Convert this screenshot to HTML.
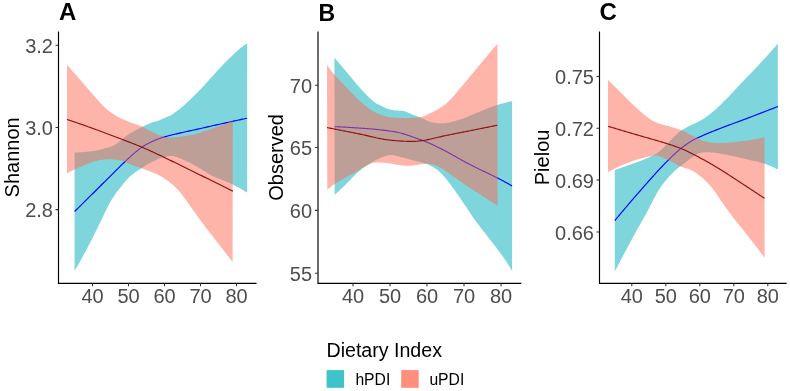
<!DOCTYPE html>
<html><head><meta charset="utf-8"><style>
html,body{margin:0;padding:0;background:#fff;width:790px;height:391px;overflow:hidden}
svg{display:block;will-change:transform}
</style></head><body>
<svg width="790" height="391" viewBox="0 0 790 391">
<path d="M74.60,152.50L75.60,152.49L76.60,152.46L77.60,152.43L78.60,152.39L79.60,152.33L80.60,152.27L81.60,152.20L82.60,152.13L83.60,152.05L84.60,151.96L85.60,151.86L86.60,151.76L87.60,151.66L88.60,151.55L89.60,151.44L90.60,151.33L91.60,151.21L92.60,151.09L93.60,150.98L94.60,150.84L95.60,150.67L96.60,150.48L97.60,150.27L98.60,150.05L99.60,149.81L100.60,149.56L101.60,149.31L102.60,149.05L103.60,148.80L104.60,148.55L105.60,148.30L106.60,148.04L107.60,147.76L108.60,147.47L109.60,147.15L110.60,146.81L111.60,146.44L112.60,146.03L113.60,145.59L114.60,145.10L115.60,144.51L116.60,143.84L117.60,143.11L118.60,142.32L119.60,141.49L120.60,140.64L121.60,139.76L122.60,138.89L123.60,138.03L124.60,137.18L125.60,136.38L126.60,135.62L127.60,134.92L128.60,134.29L129.60,133.68L130.60,133.09L131.60,132.51L132.60,131.94L133.60,131.39L134.60,130.84L135.60,130.31L136.60,129.78L137.60,129.26L138.60,128.75L139.60,128.24L140.60,127.74L141.60,127.25L142.60,126.75L143.60,126.25L144.60,125.75L145.60,125.26L146.60,124.77L147.60,124.30L148.60,123.85L149.60,123.42L150.60,123.01L151.60,122.65L152.60,122.34L153.60,122.06L154.60,121.79L155.60,121.52L156.60,121.23L157.60,120.91L158.60,120.54L159.60,120.14L160.60,119.73L161.60,119.30L162.60,118.86L163.60,118.43L164.60,117.99L165.60,117.56L166.60,117.13L167.60,116.74L168.60,116.34L169.60,115.90L170.60,115.39L171.60,114.82L172.60,114.19L173.60,113.53L174.60,112.82L175.60,112.09L176.60,111.33L177.60,110.55L178.60,109.77L179.60,108.97L180.60,108.18L181.60,107.37L182.60,106.52L183.60,105.66L184.60,104.77L185.60,103.87L186.60,102.95L187.60,102.03L188.60,101.09L189.60,100.15L190.60,99.21L191.60,98.26L192.60,97.29L193.60,96.32L194.60,95.33L195.60,94.33L196.60,93.33L197.60,92.31L198.60,91.28L199.60,90.25L200.60,89.20L201.60,88.15L202.60,87.08L203.60,85.99L204.60,84.89L205.60,83.79L206.60,82.67L207.60,81.56L208.60,80.44L209.60,79.33L210.60,78.23L211.60,77.13L212.60,76.02L213.60,74.91L214.60,73.80L215.60,72.69L216.60,71.58L217.60,70.47L218.60,69.38L219.60,68.30L220.60,67.23L221.60,66.18L222.60,65.14L223.60,64.11L224.60,63.09L225.60,62.08L226.60,61.07L227.60,60.08L228.60,59.10L229.60,58.12L230.60,57.16L231.60,56.21L232.60,55.26L233.60,54.31L234.60,53.36L235.60,52.43L236.60,51.50L237.60,50.59L238.60,49.70L239.60,48.84L240.60,48.00L241.60,47.20L242.60,46.42L243.60,45.67L244.60,44.96L245.60,44.28L246.60,43.65L247.20,43.30L247.10,192.60L246.60,192.29L245.60,191.67L244.60,191.06L243.60,190.46L242.60,189.86L241.60,189.27L240.60,188.69L239.60,188.12L238.60,187.56L237.60,187.00L236.60,186.46L235.60,185.93L234.60,185.41L233.60,184.90L232.60,184.40L231.60,183.92L230.60,183.46L229.60,183.01L228.60,182.58L227.60,182.16L226.60,181.75L225.60,181.35L224.60,180.95L223.60,180.56L222.60,180.17L221.60,179.78L220.60,179.39L219.60,178.99L218.60,178.59L217.60,178.18L216.60,177.76L215.60,177.33L214.60,176.89L213.60,176.43L212.60,175.95L211.60,175.45L210.60,174.93L209.60,174.39L208.60,173.81L207.60,173.22L206.60,172.61L205.60,171.99L204.60,171.36L203.60,170.73L202.60,170.09L201.60,169.45L200.60,168.82L199.60,168.20L198.60,167.59L197.60,167.00L196.60,166.43L195.60,165.88L194.60,165.34L193.60,164.81L192.60,164.28L191.60,163.76L190.60,163.25L189.60,162.75L188.60,162.25L187.60,161.77L186.60,161.30L185.60,160.84L184.60,160.39L183.60,159.96L182.60,159.52L181.60,159.07L180.60,158.61L179.60,158.17L178.60,157.74L177.60,157.34L176.60,156.97L175.60,156.65L174.60,156.38L173.60,156.18L172.60,156.06L171.60,156.00L170.60,156.01L169.60,156.07L168.60,156.17L167.60,156.33L166.60,156.52L165.60,156.74L164.60,156.98L163.60,157.24L162.60,157.52L161.60,157.80L160.60,158.13L159.60,158.49L158.60,158.87L157.60,159.29L156.60,159.73L155.60,160.19L154.60,160.66L153.60,161.16L152.60,161.66L151.60,162.17L150.60,162.69L149.60,163.21L148.60,163.77L147.60,164.35L146.60,164.96L145.60,165.60L144.60,166.24L143.60,166.90L142.60,167.55L141.60,168.20L140.60,168.84L139.60,169.48L138.60,170.12L137.60,170.76L136.60,171.42L135.60,172.09L134.60,172.79L133.60,173.51L132.60,174.26L131.60,175.06L130.60,175.90L129.60,176.82L128.60,177.82L127.60,178.88L126.60,179.99L125.60,181.15L124.60,182.34L123.60,183.55L122.60,184.77L121.60,185.99L120.60,187.21L119.60,188.45L118.60,189.72L117.60,191.02L116.60,192.36L115.60,193.74L114.60,195.17L113.60,196.64L112.60,198.17L111.60,199.75L110.60,201.40L109.60,203.16L108.60,205.02L107.60,206.97L106.60,208.99L105.60,211.06L104.60,213.16L103.60,215.27L102.60,217.38L101.60,219.46L100.60,221.50L99.60,223.53L98.60,225.59L97.60,227.65L96.60,229.71L95.60,231.78L94.60,233.82L93.60,235.85L92.60,237.85L91.60,239.81L90.60,241.74L89.60,243.66L88.60,245.57L87.60,247.47L86.60,249.35L85.60,251.23L84.60,253.10L83.60,254.96L82.60,256.80L81.60,258.63L80.60,260.45L79.60,262.26L78.60,264.05L77.60,265.83L76.60,267.60L75.60,269.36L74.60,271.10Z" fill="#00ABB9" fill-opacity="0.5"/>
<path d="M74.60,211.50L75.60,210.52L76.60,209.53L77.60,208.55L78.60,207.56L79.60,206.58L80.60,205.59L81.60,204.60L82.60,203.62L83.60,202.63L84.60,201.64L85.60,200.65L86.60,199.66L87.60,198.68L88.60,197.69L89.60,196.70L90.60,195.71L91.60,194.71L92.60,193.72L93.60,192.73L94.60,191.74L95.60,190.74L96.60,189.75L97.60,188.75L98.60,187.76L99.60,186.76L100.60,185.77L101.60,184.77L102.60,183.78L103.60,182.78L104.60,181.79L105.60,180.80L106.60,179.80L107.60,178.81L108.60,177.82L109.60,176.82L110.60,175.83L111.60,174.83L112.60,173.84L113.60,172.85L114.60,171.86L115.60,170.87L116.60,169.88L117.60,168.89L118.60,167.91L119.60,166.92L120.60,165.93L121.60,164.94L122.60,163.96L123.60,162.98L124.60,162.01L125.60,161.06L126.60,160.12L127.60,159.18L128.60,158.25L129.60,157.33L130.60,156.41L131.60,155.51L132.60,154.63L133.60,153.76L134.60,152.93L135.60,152.11L136.60,151.29L137.60,150.47L138.60,149.66L139.60,148.86L140.60,148.09L141.60,147.35L142.60,146.65L143.60,145.99L144.60,145.39L145.60,144.84L146.60,144.32L147.60,143.80L148.60,143.29L149.60,142.80L150.60,142.31L151.60,141.83L152.60,141.36L153.60,140.91L154.60,140.47L155.60,140.04L156.60,139.62L157.60,139.22L158.60,138.83L159.60,138.46L160.60,138.11L161.60,137.77L162.60,137.44L163.60,137.14L164.60,136.85L165.60,136.58L166.60,136.32L167.60,136.05L168.60,135.79L169.60,135.54L170.60,135.28L171.60,135.03L172.60,134.79L173.60,134.54L174.60,134.30L175.60,134.06L176.60,133.82L177.60,133.59L178.60,133.36L179.60,133.13L180.60,132.90L181.60,132.67L182.60,132.44L183.60,132.22L184.60,132.00L185.60,131.77L186.60,131.55L187.60,131.33L188.60,131.11L189.60,130.89L190.60,130.67L191.60,130.46L192.60,130.24L193.60,130.02L194.60,129.80L195.60,129.58L196.60,129.36L197.60,129.14L198.60,128.91L199.60,128.69L200.60,128.47L201.60,128.24L202.60,128.02L203.60,127.79L204.60,127.57L205.60,127.34L206.60,127.12L207.60,126.90L208.60,126.67L209.60,126.45L210.60,126.22L211.60,126.00L212.60,125.78L213.60,125.55L214.60,125.33L215.60,125.11L216.60,124.88L217.60,124.66L218.60,124.44L219.60,124.22L220.60,123.99L221.60,123.77L222.60,123.55L223.60,123.33L224.60,123.11L225.60,122.89L226.60,122.67L227.60,122.45L228.60,122.22L229.60,122.00L230.60,121.78L231.60,121.57L232.60,121.35L233.60,121.13L234.60,120.91L235.60,120.69L236.60,120.47L237.60,120.25L238.60,120.04L239.60,119.82L240.60,119.60L241.60,119.38L242.60,119.17L243.60,118.95L244.60,118.74L245.60,118.52L246.60,118.31L247.10,118.20" fill="none" stroke="#0000FF" stroke-width="1.15"/>
<path d="M67.00,64.80L68.00,65.95L69.00,67.09L70.00,68.24L71.00,69.39L72.00,70.53L73.00,71.68L74.00,72.83L75.00,73.97L76.00,75.12L77.00,76.27L78.00,77.42L79.00,78.56L80.00,79.71L81.00,80.86L82.00,82.01L83.00,83.17L84.00,84.33L85.00,85.49L86.00,86.65L87.00,87.81L88.00,88.96L89.00,90.12L90.00,91.26L91.00,92.40L92.00,93.53L93.00,94.65L94.00,95.77L95.00,96.90L96.00,98.05L97.00,99.20L98.00,100.35L99.00,101.49L100.00,102.61L101.00,103.71L102.00,104.78L103.00,105.81L104.00,106.79L105.00,107.73L106.00,108.60L107.00,109.43L108.00,110.24L109.00,111.03L110.00,111.80L111.00,112.54L112.00,113.26L113.00,113.96L114.00,114.62L115.00,115.26L116.00,115.87L117.00,116.44L118.00,116.99L119.00,117.50L120.00,117.99L121.00,118.46L122.00,118.91L123.00,119.35L124.00,119.78L125.00,120.20L126.00,120.61L127.00,121.01L128.00,121.41L129.00,121.81L130.00,122.20L131.00,122.58L132.00,122.95L133.00,123.31L134.00,123.66L135.00,124.00L136.00,124.34L137.00,124.69L138.00,125.04L139.00,125.40L140.00,125.78L141.00,126.17L142.00,126.58L143.00,127.03L144.00,127.50L145.00,128.01L146.00,128.54L147.00,129.09L148.00,129.64L149.00,130.19L150.00,130.73L151.00,131.25L152.00,131.78L153.00,132.31L154.00,132.85L155.00,133.37L156.00,133.87L157.00,134.33L158.00,134.74L159.00,135.12L160.00,135.49L161.00,135.84L162.00,136.16L163.00,136.43L164.00,136.66L165.00,136.83L166.00,136.99L167.00,137.14L168.00,137.28L169.00,137.40L170.00,137.48L171.00,137.51L172.00,137.49L173.00,137.43L174.00,137.35L175.00,137.24L176.00,137.13L177.00,137.01L178.00,136.88L179.00,136.76L180.00,136.64L181.00,136.52L182.00,136.39L183.00,136.26L184.00,136.13L185.00,135.99L186.00,135.85L187.00,135.69L188.00,135.54L189.00,135.37L190.00,135.20L191.00,135.02L192.00,134.84L193.00,134.64L194.00,134.42L195.00,134.18L196.00,133.92L197.00,133.64L198.00,133.34L199.00,133.03L200.00,132.71L201.00,132.38L202.00,132.05L203.00,131.71L204.00,131.37L205.00,131.03L206.00,130.70L207.00,130.37L208.00,130.04L209.00,129.70L210.00,129.36L211.00,129.02L212.00,128.67L213.00,128.32L214.00,127.97L215.00,127.61L216.00,127.25L217.00,126.88L218.00,126.52L219.00,126.15L220.00,125.78L221.00,125.41L222.00,125.04L223.00,124.66L224.00,124.28L225.00,123.90L226.00,123.51L227.00,123.12L228.00,122.73L229.00,122.33L230.00,121.93L231.00,121.53L232.00,121.13L232.80,120.80L232.60,261.80L232.00,261.04L231.00,259.78L230.00,258.51L229.00,257.25L228.00,255.98L227.00,254.70L226.00,253.43L225.00,252.16L224.00,250.88L223.00,249.60L222.00,248.32L221.00,247.04L220.00,245.76L219.00,244.47L218.00,243.19L217.00,241.90L216.00,240.61L215.00,239.31L214.00,238.02L213.00,236.72L212.00,235.43L211.00,234.13L210.00,232.83L209.00,231.54L208.00,230.26L207.00,228.97L206.00,227.68L205.00,226.38L204.00,225.08L203.00,223.77L202.00,222.44L201.00,221.10L200.00,219.75L199.00,218.37L198.00,216.97L197.00,215.56L196.00,214.14L195.00,212.72L194.00,211.30L193.00,209.88L192.00,208.48L191.00,207.09L190.00,205.71L189.00,204.32L188.00,202.90L187.00,201.48L186.00,200.05L185.00,198.64L184.00,197.24L183.00,195.88L182.00,194.55L181.00,193.26L180.00,192.04L179.00,190.88L178.00,189.79L177.00,188.76L176.00,187.77L175.00,186.82L174.00,185.91L173.00,185.04L172.00,184.20L171.00,183.39L170.00,182.60L169.00,181.84L168.00,181.11L167.00,180.37L166.00,179.64L165.00,178.92L164.00,178.22L163.00,177.54L162.00,176.89L161.00,176.28L160.00,175.72L159.00,175.20L158.00,174.72L157.00,174.26L156.00,173.81L155.00,173.39L154.00,172.97L153.00,172.57L152.00,172.17L151.00,171.79L150.00,171.40L149.00,171.02L148.00,170.64L147.00,170.27L146.00,169.90L145.00,169.54L144.00,169.18L143.00,168.82L142.00,168.46L141.00,168.10L140.00,167.74L139.00,167.39L138.00,167.04L137.00,166.70L136.00,166.35L135.00,166.01L134.00,165.66L133.00,165.30L132.00,164.95L131.00,164.58L130.00,164.21L129.00,163.79L128.00,163.35L127.00,162.88L126.00,162.42L125.00,161.96L124.00,161.52L123.00,161.12L122.00,160.77L121.00,160.48L120.00,160.26L119.00,160.09L118.00,159.93L117.00,159.79L116.00,159.66L115.00,159.56L114.00,159.47L113.00,159.40L112.00,159.35L111.00,159.32L110.00,159.30L109.00,159.30L108.00,159.33L107.00,159.37L106.00,159.43L105.00,159.50L104.00,159.60L103.00,159.70L102.00,159.82L101.00,159.96L100.00,160.11L99.00,160.28L98.00,160.49L97.00,160.71L96.00,160.97L95.00,161.24L94.00,161.53L93.00,161.85L92.00,162.18L91.00,162.53L90.00,162.89L89.00,163.27L88.00,163.66L87.00,164.07L86.00,164.48L85.00,164.90L84.00,165.33L83.00,165.76L82.00,166.20L81.00,166.64L80.00,167.09L79.00,167.53L78.00,167.98L77.00,168.42L76.00,168.85L75.00,169.29L74.00,169.72L73.00,170.17L72.00,170.66L71.00,171.17L70.00,171.70L69.00,172.26L68.00,172.82L67.00,173.40Z" fill="#FD6953" fill-opacity="0.5"/>
<path d="M67.00,119.50L68.00,119.82L69.00,120.15L70.00,120.48L71.00,120.81L72.00,121.14L73.00,121.47L74.00,121.81L75.00,122.15L76.00,122.48L77.00,122.82L78.00,123.17L79.00,123.51L80.00,123.85L81.00,124.20L82.00,124.55L83.00,124.90L84.00,125.25L85.00,125.60L86.00,125.95L87.00,126.31L88.00,126.67L89.00,127.02L90.00,127.38L91.00,127.74L92.00,128.11L93.00,128.47L94.00,128.84L95.00,129.20L96.00,129.57L97.00,129.94L98.00,130.31L99.00,130.68L100.00,131.05L101.00,131.42L102.00,131.80L103.00,132.17L104.00,132.54L105.00,132.92L106.00,133.29L107.00,133.67L108.00,134.05L109.00,134.42L110.00,134.80L111.00,135.18L112.00,135.55L113.00,135.93L114.00,136.31L115.00,136.68L116.00,137.06L117.00,137.44L118.00,137.82L119.00,138.20L120.00,138.57L121.00,138.95L122.00,139.33L123.00,139.71L124.00,140.10L125.00,140.48L126.00,140.86L127.00,141.25L128.00,141.63L129.00,142.02L130.00,142.41L131.00,142.80L132.00,143.19L133.00,143.59L134.00,143.98L135.00,144.38L136.00,144.78L137.00,145.18L138.00,145.58L139.00,145.98L140.00,146.39L141.00,146.80L142.00,147.21L143.00,147.62L144.00,148.04L145.00,148.47L146.00,148.91L147.00,149.34L148.00,149.79L149.00,150.24L150.00,150.69L151.00,151.15L152.00,151.61L153.00,152.07L154.00,152.53L155.00,153.00L156.00,153.47L157.00,153.94L158.00,154.41L159.00,154.88L160.00,155.35L161.00,155.83L162.00,156.30L163.00,156.78L164.00,157.26L165.00,157.74L166.00,158.22L167.00,158.70L168.00,159.18L169.00,159.66L170.00,160.15L171.00,160.63L172.00,161.12L173.00,161.61L174.00,162.09L175.00,162.58L176.00,163.07L177.00,163.56L178.00,164.05L179.00,164.54L180.00,165.03L181.00,165.53L182.00,166.02L183.00,166.51L184.00,167.00L185.00,167.50L186.00,167.99L187.00,168.49L188.00,168.98L189.00,169.47L190.00,169.97L191.00,170.46L192.00,170.96L193.00,171.45L194.00,171.94L195.00,172.44L196.00,172.93L197.00,173.42L198.00,173.92L199.00,174.41L200.00,174.90L201.00,175.39L202.00,175.88L203.00,176.38L204.00,176.87L205.00,177.36L206.00,177.86L207.00,178.35L208.00,178.84L209.00,179.34L210.00,179.83L211.00,180.33L212.00,180.82L213.00,181.32L214.00,181.82L215.00,182.31L216.00,182.81L217.00,183.31L218.00,183.80L219.00,184.30L220.00,184.80L221.00,185.30L222.00,185.80L223.00,186.29L224.00,186.79L225.00,187.29L226.00,187.79L227.00,188.29L228.00,188.79L229.00,189.29L230.00,189.80L231.00,190.30L232.00,190.80L233.00,191.30" fill="none" stroke="#901010" stroke-width="1.15"/>
<path d="M58.5,31.5V283.35H256.5" fill="none" stroke="#000" stroke-width="1.15"/>
<path d="M92.5,283.35v3M128.5,283.35v3M164.5,283.35v3M200.5,283.35v3M236.5,283.35v3M58.5,45.3h-3M58.5,127.5h-3M58.5,209.6h-3" fill="none" stroke="#333" stroke-width="1.1"/>
<text x="92.5" y="302.7" font-family="&apos;Liberation Sans&apos;, sans-serif" font-size="20" fill="#4D4D4D" text-anchor="middle">40</text>
<text x="128.5" y="302.7" font-family="&apos;Liberation Sans&apos;, sans-serif" font-size="20" fill="#4D4D4D" text-anchor="middle">50</text>
<text x="164.5" y="302.7" font-family="&apos;Liberation Sans&apos;, sans-serif" font-size="20" fill="#4D4D4D" text-anchor="middle">60</text>
<text x="200.5" y="302.7" font-family="&apos;Liberation Sans&apos;, sans-serif" font-size="20" fill="#4D4D4D" text-anchor="middle">70</text>
<text x="236.5" y="302.7" font-family="&apos;Liberation Sans&apos;, sans-serif" font-size="20" fill="#4D4D4D" text-anchor="middle">80</text>
<text x="53.0" y="52.8" font-family="&apos;Liberation Sans&apos;, sans-serif" font-size="20" fill="#4D4D4D" text-anchor="end">3.2</text>
<text x="53.0" y="135.0" font-family="&apos;Liberation Sans&apos;, sans-serif" font-size="20" fill="#4D4D4D" text-anchor="end">3.0</text>
<text x="53.0" y="217.1" font-family="&apos;Liberation Sans&apos;, sans-serif" font-size="20" fill="#4D4D4D" text-anchor="end">2.8</text>
<text transform="translate(18.9,157.425) rotate(-90)" font-family="&apos;Liberation Sans&apos;, sans-serif" font-size="20" fill="#000" text-anchor="middle">Shannon</text>
<text x="59" y="20.4" font-family="&apos;Liberation Sans&apos;, sans-serif" font-size="24" font-weight="bold" fill="#000">A</text>
<path d="M334.40,57.60L335.40,58.78L336.40,59.96L337.40,61.14L338.40,62.32L339.40,63.50L340.40,64.69L341.40,65.87L342.40,67.05L343.40,68.23L344.40,69.41L345.40,70.59L346.40,71.77L347.40,72.97L348.40,74.18L349.40,75.39L350.40,76.62L351.40,77.84L352.40,79.07L353.40,80.29L354.40,81.50L355.40,82.70L356.40,83.89L357.40,85.06L358.40,86.21L359.40,87.33L360.40,88.43L361.40,89.50L362.40,90.56L363.40,91.62L364.40,92.68L365.40,93.74L366.40,94.79L367.40,95.82L368.40,96.83L369.40,97.81L370.40,98.76L371.40,99.66L372.40,100.53L373.40,101.34L374.40,102.10L375.40,102.80L376.40,103.43L377.40,104.00L378.40,104.55L379.40,105.09L380.40,105.61L381.40,106.11L382.40,106.60L383.40,107.06L384.40,107.50L385.40,107.92L386.40,108.31L387.40,108.68L388.40,109.02L389.40,109.33L390.40,109.61L391.40,109.86L392.40,110.08L393.40,110.25L394.40,110.37L395.40,110.46L396.40,110.52L397.40,110.57L398.40,110.61L399.40,110.65L400.40,110.71L401.40,110.79L402.40,110.89L403.40,111.04L404.40,111.24L405.40,111.50L406.40,111.83L407.40,112.24L408.40,112.69L409.40,113.17L410.40,113.65L411.40,114.12L412.40,114.56L413.40,114.96L414.40,115.34L415.40,115.71L416.40,116.08L417.40,116.45L418.40,116.81L419.40,117.19L420.40,117.57L421.40,117.96L422.40,118.38L423.40,118.85L424.40,119.34L425.40,119.84L426.40,120.33L427.40,120.80L428.40,121.24L429.40,121.61L430.40,121.92L431.40,122.16L432.40,122.38L433.40,122.57L434.40,122.74L435.40,122.89L436.40,123.01L437.40,123.12L438.40,123.19L439.40,123.25L440.40,123.28L441.40,123.29L442.40,123.27L443.40,123.23L444.40,123.16L445.40,123.07L446.40,122.95L447.40,122.81L448.40,122.64L449.40,122.45L450.40,122.23L451.40,122.00L452.40,121.75L453.40,121.49L454.40,121.21L455.40,120.92L456.40,120.61L457.40,120.30L458.40,119.98L459.40,119.66L460.40,119.33L461.40,119.00L462.40,118.66L463.40,118.31L464.40,117.94L465.40,117.56L466.40,117.16L467.40,116.76L468.40,116.36L469.40,115.94L470.40,115.52L471.40,115.10L472.40,114.68L473.40,114.26L474.40,113.84L475.40,113.43L476.40,113.02L477.40,112.62L478.40,112.20L479.40,111.78L480.40,111.36L481.40,110.93L482.40,110.50L483.40,110.07L484.40,109.65L485.40,109.23L486.40,108.81L487.40,108.41L488.40,108.01L489.40,107.63L490.40,107.26L491.40,106.90L492.40,106.57L493.40,106.24L494.40,105.91L495.40,105.59L496.40,105.27L497.40,104.95L498.40,104.64L499.40,104.34L500.40,104.04L501.40,103.76L502.40,103.47L503.40,103.20L504.40,102.93L505.40,102.67L506.40,102.42L507.40,102.18L508.40,101.95L509.40,101.74L510.40,101.53L511.40,101.33L512.10,101.20L512.10,270.80L511.70,270.15L510.70,268.55L509.70,266.95L508.70,265.37L507.70,263.81L506.70,262.27L505.70,260.75L504.70,259.25L503.70,257.78L502.70,256.32L501.70,254.90L500.70,253.51L499.70,252.14L498.70,250.79L497.70,249.46L496.70,248.15L495.70,246.86L494.70,245.57L493.70,244.29L492.70,243.02L491.70,241.74L490.70,240.46L489.70,239.18L488.70,237.89L487.70,236.59L486.70,235.31L485.70,234.03L484.70,232.76L483.70,231.49L482.70,230.21L481.70,228.94L480.70,227.66L479.70,226.37L478.70,225.06L477.70,223.74L476.70,222.40L475.70,221.04L474.70,219.65L473.70,218.22L472.70,216.77L471.70,215.30L470.70,213.81L469.70,212.32L468.70,210.82L467.70,209.32L466.70,207.83L465.70,206.36L464.70,204.88L463.70,203.40L462.70,201.91L461.70,200.43L460.70,198.95L459.70,197.48L458.70,196.03L457.70,194.59L456.70,193.15L455.70,191.72L454.70,190.29L453.70,188.88L452.70,187.50L451.70,186.13L450.70,184.80L449.70,183.48L448.70,182.17L447.70,180.87L446.70,179.60L445.70,178.36L444.70,177.17L443.70,176.05L442.70,174.99L441.70,173.96L440.70,172.94L439.70,171.97L438.70,171.04L437.70,170.16L436.70,169.37L435.70,168.66L434.70,168.03L433.70,167.42L432.70,166.84L431.70,166.28L430.70,165.74L429.70,165.24L428.70,164.78L427.70,164.37L426.70,164.00L425.70,163.68L424.70,163.38L423.70,163.10L422.70,162.83L421.70,162.57L420.70,162.31L419.70,162.07L418.70,161.83L417.70,161.59L416.70,161.35L415.70,161.11L414.70,160.86L413.70,160.61L412.70,160.35L411.70,160.08L410.70,159.80L409.70,159.52L408.70,159.22L407.70,158.92L406.70,158.62L405.70,158.33L404.70,158.03L403.70,157.74L402.70,157.46L401.70,157.19L400.70,156.93L399.70,156.67L398.70,156.40L397.70,156.14L396.70,155.88L395.70,155.64L394.70,155.42L393.70,155.22L392.70,155.07L391.70,154.96L390.70,154.90L389.70,154.96L388.70,155.16L387.70,155.44L386.70,155.74L385.70,156.03L384.70,156.35L383.70,156.69L382.70,157.06L381.70,157.44L380.70,157.85L379.70,158.27L378.70,158.71L377.70,159.15L376.70,159.62L375.70,160.12L374.70,160.65L373.70,161.21L372.70,161.79L371.70,162.39L370.70,163.01L369.70,163.63L368.70,164.27L367.70,164.91L366.70,165.55L365.70,166.22L364.70,166.91L363.70,167.62L362.70,168.35L361.70,169.11L360.70,169.90L359.70,170.71L358.70,171.54L357.70,172.41L356.70,173.33L355.70,174.28L354.70,175.26L353.70,176.27L352.70,177.30L351.70,178.34L350.70,179.39L349.70,180.44L348.70,181.48L347.70,182.51L346.70,183.52L345.70,184.50L344.70,185.47L343.70,186.43L342.70,187.38L341.70,188.33L340.70,189.27L339.70,190.21L338.70,191.14L337.70,192.06L336.70,192.98L335.70,193.89L334.70,194.80Z" fill="#00ABB9" fill-opacity="0.5"/>
<path d="M334.40,126.70L335.40,126.73L336.40,126.76L337.40,126.79L338.40,126.83L339.40,126.87L340.40,126.91L341.40,126.96L342.40,127.01L343.40,127.06L344.40,127.11L345.40,127.17L346.40,127.23L347.40,127.29L348.40,127.35L349.40,127.41L350.40,127.48L351.40,127.54L352.40,127.61L353.40,127.67L354.40,127.74L355.40,127.81L356.40,127.87L357.40,127.94L358.40,128.01L359.40,128.07L360.40,128.14L361.40,128.20L362.40,128.26L363.40,128.33L364.40,128.40L365.40,128.47L366.40,128.55L367.40,128.62L368.40,128.70L369.40,128.79L370.40,128.87L371.40,128.96L372.40,129.05L373.40,129.14L374.40,129.23L375.40,129.33L376.40,129.43L377.40,129.53L378.40,129.64L379.40,129.74L380.40,129.85L381.40,129.96L382.40,130.08L383.40,130.19L384.40,130.31L385.40,130.44L386.40,130.56L387.40,130.69L388.40,130.82L389.40,130.95L390.40,131.08L391.40,131.22L392.40,131.36L393.40,131.51L394.40,131.68L395.40,131.87L396.40,132.08L397.40,132.29L398.40,132.53L399.40,132.77L400.40,133.03L401.40,133.30L402.40,133.58L403.40,133.87L404.40,134.17L405.40,134.48L406.40,134.79L407.40,135.12L408.40,135.45L409.40,135.78L410.40,136.12L411.40,136.47L412.40,136.82L413.40,137.17L414.40,137.52L415.40,137.88L416.40,138.23L417.40,138.59L418.40,138.94L419.40,139.29L420.40,139.64L421.40,140.00L422.40,140.37L423.40,140.75L424.40,141.14L425.40,141.54L426.40,141.96L427.40,142.38L428.40,142.80L429.40,143.24L430.40,143.68L431.40,144.13L432.40,144.59L433.40,145.05L434.40,145.51L435.40,145.99L436.40,146.46L437.40,146.94L438.40,147.42L439.40,147.91L440.40,148.40L441.40,148.89L442.40,149.40L443.40,149.91L444.40,150.43L445.40,150.96L446.40,151.50L447.40,152.04L448.40,152.59L449.40,153.14L450.40,153.69L451.40,154.25L452.40,154.82L453.40,155.38L454.40,155.95L455.40,156.52L456.40,157.09L457.40,157.66L458.40,158.23L459.40,158.80L460.40,159.36L461.40,159.93L462.40,160.49L463.40,161.05L464.40,161.60L465.40,162.15L466.40,162.70L467.40,163.23L468.40,163.76L469.40,164.29L470.40,164.81L471.40,165.32L472.40,165.82L473.40,166.32L474.40,166.82L475.40,167.31L476.40,167.79L477.40,168.28L478.40,168.76L479.40,169.24L480.40,169.71L481.40,170.19L482.40,170.66L483.40,171.14L484.40,171.61L485.40,172.08L486.40,172.56L487.40,173.03L488.40,173.51L489.40,173.99L490.40,174.47L491.40,174.96L492.40,175.45L493.40,175.94L494.40,176.44L495.40,176.94L496.40,177.45L497.40,177.96L498.40,178.48L499.40,179.00L500.40,179.52L501.40,180.05L502.40,180.58L503.40,181.11L504.40,181.65L505.40,182.19L506.40,182.74L507.40,183.29L508.40,183.84L509.40,184.39L510.40,184.95L511.40,185.51L512.10,185.90" fill="none" stroke="#0000FF" stroke-width="1.15"/>
<path d="M327.00,65.30L328.00,66.62L329.00,67.91L330.00,69.19L331.00,70.45L332.00,71.68L333.00,72.88L334.00,74.04L335.00,75.18L336.00,76.29L337.00,77.39L338.00,78.46L339.00,79.53L340.00,80.58L341.00,81.63L342.00,82.66L343.00,83.70L344.00,84.73L345.00,85.76L346.00,86.80L347.00,87.85L348.00,88.91L349.00,89.98L350.00,91.06L351.00,92.14L352.00,93.22L353.00,94.29L354.00,95.36L355.00,96.41L356.00,97.44L357.00,98.44L358.00,99.42L359.00,100.37L360.00,101.29L361.00,102.16L362.00,103.00L363.00,103.83L364.00,104.66L365.00,105.47L366.00,106.27L367.00,107.06L368.00,107.82L369.00,108.55L370.00,109.26L371.00,109.94L372.00,110.58L373.00,111.18L374.00,111.73L375.00,112.25L376.00,112.71L377.00,113.12L378.00,113.52L379.00,113.92L380.00,114.31L381.00,114.70L382.00,115.07L383.00,115.44L384.00,115.78L385.00,116.10L386.00,116.40L387.00,116.67L388.00,116.92L389.00,117.12L390.00,117.29L391.00,117.42L392.00,117.50L393.00,117.56L394.00,117.61L395.00,117.67L396.00,117.72L397.00,117.77L398.00,117.81L399.00,117.85L400.00,117.89L401.00,117.92L402.00,117.95L403.00,117.97L404.00,117.99L405.00,118.00L406.00,118.00L407.00,118.00L408.00,117.99L409.00,117.98L410.00,117.95L411.00,117.92L412.00,117.87L413.00,117.82L414.00,117.76L415.00,117.69L416.00,117.62L417.00,117.54L418.00,117.45L419.00,117.36L420.00,117.25L421.00,117.08L422.00,116.84L423.00,116.53L424.00,116.17L425.00,115.77L426.00,115.32L427.00,114.85L428.00,114.36L429.00,113.86L430.00,113.37L431.00,112.87L432.00,112.40L433.00,111.93L434.00,111.43L435.00,110.92L436.00,110.38L437.00,109.82L438.00,109.24L439.00,108.64L440.00,108.01L441.00,107.35L442.00,106.67L443.00,105.97L444.00,105.24L445.00,104.48L446.00,103.70L447.00,102.87L448.00,101.97L449.00,101.02L450.00,100.01L451.00,98.96L452.00,97.87L453.00,96.74L454.00,95.59L455.00,94.41L456.00,93.22L457.00,92.02L458.00,90.82L459.00,89.62L460.00,88.44L461.00,87.26L462.00,86.11L463.00,84.94L464.00,83.76L465.00,82.58L466.00,81.38L467.00,80.18L468.00,78.97L469.00,77.76L470.00,76.54L471.00,75.32L472.00,74.10L473.00,72.88L474.00,71.67L475.00,70.45L476.00,69.24L477.00,68.04L478.00,66.83L479.00,65.63L480.00,64.42L481.00,63.20L482.00,61.99L483.00,60.78L484.00,59.57L485.00,58.36L486.00,57.15L487.00,55.95L488.00,54.75L489.00,53.55L490.00,52.36L491.00,51.18L492.00,50.00L493.00,48.83L494.00,47.67L495.00,46.52L496.00,45.38L497.00,44.25L497.40,43.80L497.60,205.80L497.30,205.61L496.30,204.96L495.30,204.31L494.30,203.66L493.30,203.01L492.30,202.37L491.30,201.72L490.30,201.07L489.30,200.42L488.30,199.77L487.30,199.13L486.30,198.48L485.30,197.83L484.30,197.18L483.30,196.53L482.30,195.88L481.30,195.24L480.30,194.59L479.30,193.94L478.30,193.30L477.30,192.66L476.30,192.02L475.30,191.38L474.30,190.73L473.30,190.09L472.30,189.44L471.30,188.80L470.30,188.15L469.30,187.49L468.30,186.83L467.30,186.17L466.30,185.50L465.30,184.83L464.30,184.15L463.30,183.46L462.30,182.77L461.30,182.07L460.30,181.37L459.30,180.67L458.30,179.97L457.30,179.26L456.30,178.55L455.30,177.84L454.30,177.14L453.30,176.43L452.30,175.72L451.30,175.02L450.30,174.32L449.30,173.60L448.30,172.87L447.30,172.13L446.30,171.41L445.30,170.70L444.30,170.02L443.30,169.38L442.30,168.78L441.30,168.17L440.30,167.57L439.30,167.00L438.30,166.47L437.30,166.00L436.30,165.61L435.30,165.30L434.30,165.04L433.30,164.79L432.30,164.55L431.30,164.32L430.30,164.13L429.30,163.97L428.30,163.86L427.30,163.79L426.30,163.79L425.30,163.85L424.30,163.92L423.30,164.02L422.30,164.14L421.30,164.28L420.30,164.42L419.30,164.57L418.30,164.73L417.30,164.89L416.30,165.05L415.30,165.20L414.30,165.34L413.30,165.47L412.30,165.58L411.30,165.67L410.30,165.74L409.30,165.79L408.30,165.80L407.30,165.79L406.30,165.75L405.30,165.70L404.30,165.63L403.30,165.54L402.30,165.44L401.30,165.32L400.30,165.20L399.30,165.07L398.30,164.93L397.30,164.79L396.30,164.64L395.30,164.49L394.30,164.29L393.30,164.07L392.30,163.84L391.30,163.63L390.30,163.45L389.30,163.30L388.30,163.17L387.30,163.04L386.30,162.92L385.30,162.82L384.30,162.72L383.30,162.63L382.30,162.56L381.30,162.49L380.30,162.46L379.30,162.45L378.30,162.46L377.30,162.51L376.30,162.57L375.30,162.65L374.30,162.74L373.30,162.85L372.30,163.06L371.30,163.37L370.30,163.76L369.30,164.20L368.30,164.67L367.30,165.15L366.30,165.66L365.30,166.21L364.30,166.81L363.30,167.43L362.30,168.07L361.30,168.72L360.30,169.35L359.30,169.97L358.30,170.56L357.30,171.12L356.30,171.68L355.30,172.23L354.30,172.77L353.30,173.31L352.30,173.85L351.30,174.39L350.30,174.92L349.30,175.46L348.30,176.01L347.30,176.55L346.30,177.11L345.30,177.67L344.30,178.23L343.30,178.79L342.30,179.35L341.30,179.91L340.30,180.49L339.30,181.06L338.30,181.65L337.30,182.26L336.30,182.87L335.30,183.51L334.30,184.17L333.30,184.86L332.30,185.60L331.30,186.37L330.30,187.17L329.30,188.00L328.30,188.84L327.30,189.70Z" fill="#FD6953" fill-opacity="0.5"/>
<path d="M327.00,127.60L328.00,127.79L329.00,127.98L330.00,128.17L331.00,128.36L332.00,128.55L333.00,128.75L334.00,128.94L335.00,129.13L336.00,129.33L337.00,129.52L338.00,129.72L339.00,129.91L340.00,130.11L341.00,130.30L342.00,130.50L343.00,130.70L344.00,130.90L345.00,131.09L346.00,131.29L347.00,131.49L348.00,131.69L349.00,131.89L350.00,132.09L351.00,132.29L352.00,132.49L353.00,132.69L354.00,132.90L355.00,133.10L356.00,133.30L357.00,133.50L358.00,133.71L359.00,133.91L360.00,134.11L361.00,134.32L362.00,134.52L363.00,134.74L364.00,134.95L365.00,135.18L366.00,135.41L367.00,135.64L368.00,135.87L369.00,136.11L370.00,136.35L371.00,136.59L372.00,136.83L373.00,137.06L374.00,137.29L375.00,137.53L376.00,137.75L377.00,137.97L378.00,138.19L379.00,138.40L380.00,138.60L381.00,138.79L382.00,138.97L383.00,139.15L384.00,139.31L385.00,139.46L386.00,139.60L387.00,139.73L388.00,139.86L389.00,139.98L390.00,140.10L391.00,140.21L392.00,140.32L393.00,140.42L394.00,140.52L395.00,140.61L396.00,140.70L397.00,140.78L398.00,140.86L399.00,140.93L400.00,141.00L401.00,141.06L402.00,141.12L403.00,141.17L404.00,141.21L405.00,141.26L406.00,141.29L407.00,141.33L408.00,141.35L409.00,141.37L410.00,141.39L411.00,141.39L412.00,141.39L413.00,141.38L414.00,141.35L415.00,141.32L416.00,141.27L417.00,141.21L418.00,141.13L419.00,141.04L420.00,140.94L421.00,140.82L422.00,140.68L423.00,140.54L424.00,140.37L425.00,140.20L426.00,140.02L427.00,139.82L428.00,139.62L429.00,139.41L430.00,139.19L431.00,138.97L432.00,138.74L433.00,138.50L434.00,138.27L435.00,138.03L436.00,137.79L437.00,137.54L438.00,137.30L439.00,137.06L440.00,136.83L441.00,136.59L442.00,136.36L443.00,136.14L444.00,135.92L445.00,135.70L446.00,135.50L447.00,135.30L448.00,135.10L449.00,134.90L450.00,134.70L451.00,134.50L452.00,134.30L453.00,134.11L454.00,133.91L455.00,133.71L456.00,133.51L457.00,133.31L458.00,133.12L459.00,132.92L460.00,132.72L461.00,132.52L462.00,132.32L463.00,132.13L464.00,131.93L465.00,131.73L466.00,131.53L467.00,131.33L468.00,131.14L469.00,130.94L470.00,130.74L471.00,130.54L472.00,130.34L473.00,130.14L474.00,129.94L475.00,129.74L476.00,129.54L477.00,129.34L478.00,129.14L479.00,128.94L480.00,128.73L481.00,128.53L482.00,128.33L483.00,128.13L484.00,127.93L485.00,127.72L486.00,127.52L487.00,127.32L488.00,127.12L489.00,126.91L490.00,126.71L491.00,126.51L492.00,126.30L493.00,126.10L494.00,125.89L495.00,125.69L496.00,125.49L497.00,125.28L497.40,125.20" fill="none" stroke="#901010" stroke-width="1.15"/>
<path d="M318.0,31.5V283.35H521.3" fill="none" stroke="#000" stroke-width="1.15"/>
<path d="M353,283.35v3M390,283.35v3M427,283.35v3M464,283.35v3M501,283.35v3M318.0,85.2h-3M318.0,147.5h-3M318.0,210.4h-3M318.0,273.2h-3" fill="none" stroke="#333" stroke-width="1.1"/>
<text x="353" y="302.7" font-family="&apos;Liberation Sans&apos;, sans-serif" font-size="20" fill="#4D4D4D" text-anchor="middle">40</text>
<text x="390" y="302.7" font-family="&apos;Liberation Sans&apos;, sans-serif" font-size="20" fill="#4D4D4D" text-anchor="middle">50</text>
<text x="427" y="302.7" font-family="&apos;Liberation Sans&apos;, sans-serif" font-size="20" fill="#4D4D4D" text-anchor="middle">60</text>
<text x="464" y="302.7" font-family="&apos;Liberation Sans&apos;, sans-serif" font-size="20" fill="#4D4D4D" text-anchor="middle">70</text>
<text x="501" y="302.7" font-family="&apos;Liberation Sans&apos;, sans-serif" font-size="20" fill="#4D4D4D" text-anchor="middle">80</text>
<text x="312.1" y="92.7" font-family="&apos;Liberation Sans&apos;, sans-serif" font-size="20" fill="#4D4D4D" text-anchor="end">70</text>
<text x="312.1" y="155.0" font-family="&apos;Liberation Sans&apos;, sans-serif" font-size="20" fill="#4D4D4D" text-anchor="end">65</text>
<text x="312.1" y="217.9" font-family="&apos;Liberation Sans&apos;, sans-serif" font-size="20" fill="#4D4D4D" text-anchor="end">60</text>
<text x="312.1" y="280.7" font-family="&apos;Liberation Sans&apos;, sans-serif" font-size="20" fill="#4D4D4D" text-anchor="end">55</text>
<text transform="translate(283.3,157.425) rotate(-90)" font-family="&apos;Liberation Sans&apos;, sans-serif" font-size="20" fill="#000" text-anchor="middle">Observed</text>
<text x="318.6" y="20.8" font-family="&apos;Liberation Sans&apos;, sans-serif" font-size="23" font-weight="bold" fill="#000">B</text>
<path d="M614.80,170.10L615.80,169.73L616.80,169.37L617.80,169.01L618.80,168.64L619.80,168.28L620.80,167.92L621.80,167.56L622.80,167.20L623.80,166.84L624.80,166.49L625.80,166.13L626.80,165.78L627.80,165.43L628.80,165.08L629.80,164.73L630.80,164.39L631.80,164.04L632.80,163.70L633.80,163.35L634.80,163.00L635.80,162.65L636.80,162.29L637.80,161.92L638.80,161.55L639.80,161.17L640.80,160.79L641.80,160.40L642.80,160.01L643.80,159.61L644.80,159.20L645.80,158.79L646.80,158.37L647.80,157.94L648.80,157.51L649.80,157.06L650.80,156.59L651.80,156.09L652.80,155.57L653.80,155.02L654.80,154.45L655.80,153.85L656.80,153.22L657.80,152.54L658.80,151.83L659.80,151.08L660.80,150.27L661.80,149.39L662.80,148.43L663.80,147.43L664.80,146.38L665.80,145.32L666.80,144.26L667.80,143.21L668.80,142.20L669.80,141.19L670.80,140.16L671.80,139.13L672.80,138.12L673.80,137.11L674.80,136.14L675.80,135.20L676.80,134.28L677.80,133.37L678.80,132.48L679.80,131.64L680.80,130.86L681.80,130.16L682.80,129.54L683.80,128.96L684.80,128.41L685.80,127.88L686.80,127.36L687.80,126.86L688.80,126.36L689.80,125.86L690.80,125.35L691.80,124.84L692.80,124.35L693.80,123.87L694.80,123.40L695.80,122.92L696.80,122.44L697.80,121.94L698.80,121.44L699.80,120.91L700.80,120.36L701.80,119.77L702.80,119.16L703.80,118.52L704.80,117.85L705.80,117.16L706.80,116.45L707.80,115.72L708.80,114.97L709.80,114.21L710.80,113.43L711.80,112.64L712.80,111.82L713.80,110.97L714.80,110.09L715.80,109.19L716.80,108.27L717.80,107.33L718.80,106.39L719.80,105.44L720.80,104.48L721.80,103.52L722.80,102.54L723.80,101.55L724.80,100.55L725.80,99.53L726.80,98.51L727.80,97.47L728.80,96.43L729.80,95.39L730.80,94.34L731.80,93.29L732.80,92.23L733.80,91.16L734.80,90.08L735.80,88.99L736.80,87.90L737.80,86.81L738.80,85.72L739.80,84.63L740.80,83.56L741.80,82.50L742.80,81.45L743.80,80.41L744.80,79.38L745.80,78.36L746.80,77.33L747.80,76.31L748.80,75.29L749.80,74.27L750.80,73.24L751.80,72.21L752.80,71.17L753.80,70.13L754.80,69.09L755.80,68.04L756.80,67.00L757.80,65.94L758.80,64.88L759.80,63.81L760.80,62.74L761.80,61.66L762.80,60.58L763.80,59.49L764.80,58.40L765.80,57.30L766.80,56.20L767.80,55.10L768.80,53.99L769.80,52.87L770.80,51.75L771.80,50.62L772.80,49.49L773.80,48.34L774.80,47.18L775.80,46.00L776.80,44.81L777.80,43.60L777.90,169.50L777.80,169.45L776.80,168.95L775.80,168.45L774.80,167.96L773.80,167.47L772.80,167.00L771.80,166.53L770.80,166.08L769.80,165.65L768.80,165.23L767.80,164.84L766.80,164.46L765.80,164.11L764.80,163.79L763.80,163.49L762.80,163.20L761.80,162.92L760.80,162.65L759.80,162.38L758.80,162.12L757.80,161.87L756.80,161.62L755.80,161.37L754.80,161.13L753.80,160.89L752.80,160.66L751.80,160.42L750.80,160.19L749.80,159.96L748.80,159.74L747.80,159.51L746.80,159.28L745.80,159.05L744.80,158.83L743.80,158.60L742.80,158.37L741.80,158.14L740.80,157.91L739.80,157.68L738.80,157.46L737.80,157.23L736.80,157.00L735.80,156.78L734.80,156.56L733.80,156.34L732.80,156.12L731.80,155.90L730.80,155.68L729.80,155.47L728.80,155.26L727.80,155.05L726.80,154.85L725.80,154.65L724.80,154.45L723.80,154.25L722.80,154.06L721.80,153.88L720.80,153.70L719.80,153.53L718.80,153.37L717.80,153.22L716.80,153.07L715.80,152.94L714.80,152.82L713.80,152.71L712.80,152.61L711.80,152.52L710.80,152.45L709.80,152.39L708.80,152.34L707.80,152.31L706.80,152.29L705.80,152.28L704.80,152.29L703.80,152.33L702.80,152.44L701.80,152.63L700.80,152.88L699.80,153.21L698.80,153.59L697.80,154.03L696.80,154.52L695.80,155.07L694.80,155.65L693.80,156.28L692.80,156.94L691.80,157.63L690.80,158.34L689.80,159.08L688.80,159.83L687.80,160.60L686.80,161.38L685.80,162.16L684.80,162.94L683.80,163.71L682.80,164.47L681.80,165.22L680.80,165.96L679.80,166.68L678.80,167.45L677.80,168.24L676.80,169.08L675.80,169.94L674.80,170.84L673.80,171.78L672.80,172.74L671.80,173.74L670.80,174.78L669.80,175.85L668.80,176.95L667.80,178.08L666.80,179.25L665.80,180.45L664.80,181.68L663.80,182.94L662.80,184.23L661.80,185.56L660.80,186.93L659.80,188.41L658.80,189.98L657.80,191.63L656.80,193.37L655.80,195.16L654.80,197.01L653.80,198.90L652.80,200.82L651.80,202.76L650.80,204.70L649.80,206.65L648.80,208.57L647.80,210.48L646.80,212.34L645.80,214.16L644.80,215.96L643.80,217.75L642.80,219.55L641.80,221.34L640.80,223.13L639.80,224.92L638.80,226.71L637.80,228.50L636.80,230.30L635.80,232.10L634.80,233.91L633.80,235.72L632.80,237.55L631.80,239.38L630.80,241.22L629.80,243.06L628.80,244.92L627.80,246.78L626.80,248.65L625.80,250.52L624.80,252.40L623.80,254.29L622.80,256.18L621.80,258.07L620.80,259.98L619.80,261.88L618.80,263.80L617.80,265.71L616.80,267.64L615.80,269.57L614.80,271.50Z" fill="#00ABB9" fill-opacity="0.5"/>
<path d="M614.80,220.60L615.80,219.40L616.80,218.20L617.80,217.00L618.80,215.80L619.80,214.61L620.80,213.42L621.80,212.23L622.80,211.04L623.80,209.86L624.80,208.68L625.80,207.50L626.80,206.32L627.80,205.14L628.80,203.97L629.80,202.80L630.80,201.64L631.80,200.47L632.80,199.31L633.80,198.15L634.80,196.99L635.80,195.84L636.80,194.69L637.80,193.54L638.80,192.40L639.80,191.25L640.80,190.11L641.80,188.98L642.80,187.84L643.80,186.69L644.80,185.55L645.80,184.41L646.80,183.28L647.80,182.14L648.80,181.00L649.80,179.87L650.80,178.75L651.80,177.62L652.80,176.50L653.80,175.39L654.80,174.28L655.80,173.18L656.80,172.09L657.80,171.01L658.80,169.93L659.80,168.86L660.80,167.80L661.80,166.76L662.80,165.72L663.80,164.69L664.80,163.67L665.80,162.65L666.80,161.63L667.80,160.61L668.80,159.60L669.80,158.60L670.80,157.61L671.80,156.63L672.80,155.66L673.80,154.71L674.80,153.77L675.80,152.85L676.80,151.95L677.80,151.07L678.80,150.21L679.80,149.38L680.80,148.58L681.80,147.79L682.80,147.02L683.80,146.25L684.80,145.50L685.80,144.76L686.80,144.05L687.80,143.35L688.80,142.68L689.80,142.03L690.80,141.41L691.80,140.82L692.80,140.27L693.80,139.75L694.80,139.25L695.80,138.76L696.80,138.28L697.80,137.80L698.80,137.33L699.80,136.87L700.80,136.42L701.80,135.97L702.80,135.52L703.80,135.09L704.80,134.65L705.80,134.23L706.80,133.80L707.80,133.38L708.80,132.97L709.80,132.56L710.80,132.15L711.80,131.75L712.80,131.34L713.80,130.94L714.80,130.55L715.80,130.15L716.80,129.76L717.80,129.36L718.80,128.97L719.80,128.58L720.80,128.19L721.80,127.80L722.80,127.42L723.80,127.03L724.80,126.65L725.80,126.28L726.80,125.90L727.80,125.53L728.80,125.16L729.80,124.79L730.80,124.42L731.80,124.05L732.80,123.68L733.80,123.32L734.80,122.95L735.80,122.58L736.80,122.21L737.80,121.85L738.80,121.48L739.80,121.11L740.80,120.74L741.80,120.37L742.80,119.99L743.80,119.62L744.80,119.24L745.80,118.86L746.80,118.48L747.80,118.10L748.80,117.72L749.80,117.34L750.80,116.96L751.80,116.57L752.80,116.19L753.80,115.81L754.80,115.43L755.80,115.04L756.80,114.66L757.80,114.28L758.80,113.89L759.80,113.51L760.80,113.13L761.80,112.74L762.80,112.36L763.80,111.97L764.80,111.58L765.80,111.20L766.80,110.81L767.80,110.43L768.80,110.04L769.80,109.65L770.80,109.26L771.80,108.87L772.80,108.49L773.80,108.10L774.80,107.71L775.80,107.32L776.80,106.93L777.80,106.54L777.90,106.50" fill="none" stroke="#0000FF" stroke-width="1.15"/>
<path d="M608.00,80.00L609.00,80.95L610.00,81.90L611.00,82.86L612.00,83.82L613.00,84.79L614.00,85.76L615.00,86.73L616.00,87.71L617.00,88.69L618.00,89.68L619.00,90.68L620.00,91.68L621.00,92.68L622.00,93.69L623.00,94.69L624.00,95.70L625.00,96.70L626.00,97.71L627.00,98.72L628.00,99.74L629.00,100.75L630.00,101.76L631.00,102.76L632.00,103.74L633.00,104.71L634.00,105.66L635.00,106.60L636.00,107.52L637.00,108.44L638.00,109.34L639.00,110.24L640.00,111.11L641.00,111.97L642.00,112.83L643.00,113.68L644.00,114.54L645.00,115.39L646.00,116.22L647.00,117.02L648.00,117.78L649.00,118.48L650.00,119.12L651.00,119.73L652.00,120.32L653.00,120.88L654.00,121.41L655.00,121.91L656.00,122.37L657.00,122.79L658.00,123.17L659.00,123.50L660.00,123.81L661.00,124.10L662.00,124.38L663.00,124.65L664.00,124.93L665.00,125.20L666.00,125.48L667.00,125.78L668.00,126.07L669.00,126.36L670.00,126.66L671.00,126.95L672.00,127.25L673.00,127.55L674.00,127.85L675.00,128.16L676.00,128.47L677.00,128.78L678.00,129.09L679.00,129.41L680.00,129.75L681.00,130.11L682.00,130.50L683.00,130.92L684.00,131.38L685.00,131.86L686.00,132.37L687.00,132.89L688.00,133.41L689.00,133.94L690.00,134.45L691.00,134.95L692.00,135.46L693.00,135.98L694.00,136.52L695.00,137.05L696.00,137.58L697.00,138.10L698.00,138.59L699.00,139.06L700.00,139.50L701.00,139.89L702.00,140.25L703.00,140.59L704.00,140.92L705.00,141.24L706.00,141.54L707.00,141.81L708.00,142.05L709.00,142.25L710.00,142.42L711.00,142.55L712.00,142.64L713.00,142.72L714.00,142.80L715.00,142.86L716.00,142.92L717.00,142.98L718.00,143.02L719.00,143.05L720.00,143.06L721.00,143.06L722.00,143.04L723.00,143.00L724.00,142.95L725.00,142.89L726.00,142.83L727.00,142.76L728.00,142.68L729.00,142.60L730.00,142.52L731.00,142.43L732.00,142.33L733.00,142.24L734.00,142.13L735.00,142.03L736.00,141.92L737.00,141.81L738.00,141.69L739.00,141.58L740.00,141.46L741.00,141.33L742.00,141.21L743.00,141.08L744.00,140.96L745.00,140.83L746.00,140.70L747.00,140.57L748.00,140.42L749.00,140.28L750.00,140.12L751.00,139.96L752.00,139.79L753.00,139.61L754.00,139.43L755.00,139.24L756.00,139.05L757.00,138.86L758.00,138.66L759.00,138.46L760.00,138.25L761.00,138.04L762.00,137.83L763.00,137.62L764.00,137.41L764.50,137.30L764.60,257.70L764.00,256.91L763.00,255.59L762.00,254.28L761.00,252.97L760.00,251.66L759.00,250.35L758.00,249.04L757.00,247.74L756.00,246.44L755.00,245.14L754.00,243.84L753.00,242.54L752.00,241.25L751.00,239.96L750.00,238.67L749.00,237.38L748.00,236.10L747.00,234.82L746.00,233.54L745.00,232.26L744.00,230.98L743.00,229.71L742.00,228.44L741.00,227.17L740.00,225.90L739.00,224.65L738.00,223.42L737.00,222.21L736.00,221.00L735.00,219.78L734.00,218.55L733.00,217.30L732.00,216.02L731.00,214.70L730.00,213.35L729.00,211.98L728.00,210.58L727.00,209.17L726.00,207.75L725.00,206.32L724.00,204.89L723.00,203.47L722.00,202.05L721.00,200.63L720.00,199.19L719.00,197.72L718.00,196.23L717.00,194.74L716.00,193.27L715.00,191.82L714.00,190.41L713.00,189.06L712.00,187.77L711.00,186.56L710.00,185.41L709.00,184.29L708.00,183.20L707.00,182.15L706.00,181.13L705.00,180.16L704.00,179.22L703.00,178.33L702.00,177.48L701.00,176.68L700.00,175.90L699.00,175.13L698.00,174.37L697.00,173.63L696.00,172.92L695.00,172.24L694.00,171.59L693.00,170.99L692.00,170.43L691.00,169.94L690.00,169.50L689.00,169.12L688.00,168.79L687.00,168.48L686.00,168.20L685.00,167.92L684.00,167.63L683.00,167.33L682.00,166.99L681.00,166.61L680.00,166.18L679.00,165.71L678.00,165.21L677.00,164.68L676.00,164.15L675.00,163.60L674.00,163.05L673.00,162.50L672.00,161.96L671.00,161.43L670.00,160.93L669.00,160.45L668.00,160.00L667.00,159.56L666.00,159.10L665.00,158.64L664.00,158.18L663.00,157.73L662.00,157.30L661.00,156.89L660.00,156.53L659.00,156.21L658.00,155.95L657.00,155.76L656.00,155.64L655.00,155.60L654.00,155.64L653.00,155.74L652.00,155.90L651.00,156.09L650.00,156.30L649.00,156.51L648.00,156.73L647.00,156.95L646.00,157.18L645.00,157.42L644.00,157.67L643.00,157.93L642.00,158.19L641.00,158.47L640.00,158.74L639.00,159.03L638.00,159.32L637.00,159.62L636.00,159.93L635.00,160.25L634.00,160.59L633.00,160.93L632.00,161.28L631.00,161.64L630.00,162.01L629.00,162.38L628.00,162.76L627.00,163.15L626.00,163.54L625.00,163.94L624.00,164.35L623.00,164.77L622.00,165.20L621.00,165.64L620.00,166.09L619.00,166.54L618.00,167.01L617.00,167.48L616.00,167.96L615.00,168.45L614.00,168.94L613.00,169.44L612.00,169.94L611.00,170.45L610.00,170.96L609.00,171.48L608.00,172.00Z" fill="#FD6953" fill-opacity="0.5"/>
<path d="M608.20,126.30L609.20,126.60L610.20,126.91L611.20,127.21L612.20,127.51L613.20,127.81L614.20,128.12L615.20,128.42L616.20,128.72L617.20,129.02L618.20,129.31L619.20,129.61L620.20,129.91L621.20,130.21L622.20,130.51L623.20,130.80L624.20,131.10L625.20,131.39L626.20,131.69L627.20,131.98L628.20,132.28L629.20,132.57L630.20,132.87L631.20,133.16L632.20,133.46L633.20,133.75L634.20,134.04L635.20,134.34L636.20,134.63L637.20,134.92L638.20,135.21L639.20,135.50L640.20,135.80L641.20,136.09L642.20,136.38L643.20,136.66L644.20,136.95L645.20,137.24L646.20,137.52L647.20,137.80L648.20,138.09L649.20,138.37L650.20,138.65L651.20,138.93L652.20,139.22L653.20,139.50L654.20,139.79L655.20,140.08L656.20,140.37L657.20,140.66L658.20,140.96L659.20,141.26L660.20,141.56L661.20,141.86L662.20,142.17L663.20,142.47L664.20,142.78L665.20,143.08L666.20,143.39L667.20,143.71L668.20,144.02L669.20,144.34L670.20,144.66L671.20,144.99L672.20,145.32L673.20,145.66L674.20,146.00L675.20,146.35L676.20,146.70L677.20,147.06L678.20,147.43L679.20,147.80L680.20,148.18L681.20,148.58L682.20,148.98L683.20,149.41L684.20,149.84L685.20,150.29L686.20,150.75L687.20,151.22L688.20,151.70L689.20,152.18L690.20,152.68L691.20,153.19L692.20,153.70L693.20,154.21L694.20,154.73L695.20,155.26L696.20,155.79L697.20,156.32L698.20,156.85L699.20,157.38L700.20,157.92L701.20,158.45L702.20,158.98L703.20,159.52L704.20,160.06L705.20,160.62L706.20,161.17L707.20,161.73L708.20,162.30L709.20,162.87L710.20,163.45L711.20,164.03L712.20,164.62L713.20,165.21L714.20,165.80L715.20,166.40L716.20,167.00L717.20,167.60L718.20,168.21L719.20,168.81L720.20,169.42L721.20,170.04L722.20,170.66L723.20,171.28L724.20,171.91L725.20,172.55L726.20,173.19L727.20,173.83L728.20,174.48L729.20,175.13L730.20,175.78L731.20,176.43L732.20,177.09L733.20,177.74L734.20,178.40L735.20,179.06L736.20,179.71L737.20,180.37L738.20,181.02L739.20,181.68L740.20,182.33L741.20,182.98L742.20,183.63L743.20,184.29L744.20,184.94L745.20,185.59L746.20,186.25L747.20,186.90L748.20,187.56L749.20,188.21L750.20,188.87L751.20,189.52L752.20,190.18L753.20,190.84L754.20,191.50L755.20,192.15L756.20,192.81L757.20,193.47L758.20,194.13L759.20,194.79L760.20,195.45L761.20,196.11L762.20,196.78L763.20,197.44L764.20,198.10L764.50,198.30" fill="none" stroke="#901010" stroke-width="1.15"/>
<path d="M599.5,31.5V283.35H786.6" fill="none" stroke="#000" stroke-width="1.15"/>
<path d="M631.8,283.35v3M665.8,283.35v3M699.8,283.35v3M733.8,283.35v3M767.8,283.35v3M599.5,76.5h-3M599.5,128.2h-3M599.5,180h-3M599.5,232h-3" fill="none" stroke="#333" stroke-width="1.1"/>
<text x="631.8" y="302.7" font-family="&apos;Liberation Sans&apos;, sans-serif" font-size="20" fill="#4D4D4D" text-anchor="middle">40</text>
<text x="665.8" y="302.7" font-family="&apos;Liberation Sans&apos;, sans-serif" font-size="20" fill="#4D4D4D" text-anchor="middle">50</text>
<text x="699.8" y="302.7" font-family="&apos;Liberation Sans&apos;, sans-serif" font-size="20" fill="#4D4D4D" text-anchor="middle">60</text>
<text x="733.8" y="302.7" font-family="&apos;Liberation Sans&apos;, sans-serif" font-size="20" fill="#4D4D4D" text-anchor="middle">70</text>
<text x="767.8" y="302.7" font-family="&apos;Liberation Sans&apos;, sans-serif" font-size="20" fill="#4D4D4D" text-anchor="middle">80</text>
<text x="594.0" y="84.0" font-family="&apos;Liberation Sans&apos;, sans-serif" font-size="20" fill="#4D4D4D" text-anchor="end">0.75</text>
<text x="594.0" y="135.7" font-family="&apos;Liberation Sans&apos;, sans-serif" font-size="20" fill="#4D4D4D" text-anchor="end">0.72</text>
<text x="594.0" y="187.5" font-family="&apos;Liberation Sans&apos;, sans-serif" font-size="20" fill="#4D4D4D" text-anchor="end">0.69</text>
<text x="594.0" y="239.5" font-family="&apos;Liberation Sans&apos;, sans-serif" font-size="20" fill="#4D4D4D" text-anchor="end">0.66</text>
<text transform="translate(549.1,157.425) rotate(-90)" font-family="&apos;Liberation Sans&apos;, sans-serif" font-size="20" fill="#000" text-anchor="middle">Pielou</text>
<text x="599.5" y="20.4" font-family="&apos;Liberation Sans&apos;, sans-serif" font-size="24" font-weight="bold" fill="#000">C</text>
<text x="326.5" y="357.4" font-family="&apos;Liberation Sans&apos;, sans-serif" font-size="19.6" fill="#000">Dietary Index</text>
<rect x="326.6" y="370.1" width="17.5" height="17.7" fill="#40C2CA"/>
<rect x="401.2" y="370.1" width="17.5" height="17.7" fill="#FF8F7D"/>
<text x="355.4" y="384.9" font-family="&apos;Liberation Sans&apos;, sans-serif" font-size="15.7" fill="#000">hPDI</text>
<text x="429.4" y="384.9" font-family="&apos;Liberation Sans&apos;, sans-serif" font-size="15.7" fill="#000">uPDI</text>
</svg></body></html>
